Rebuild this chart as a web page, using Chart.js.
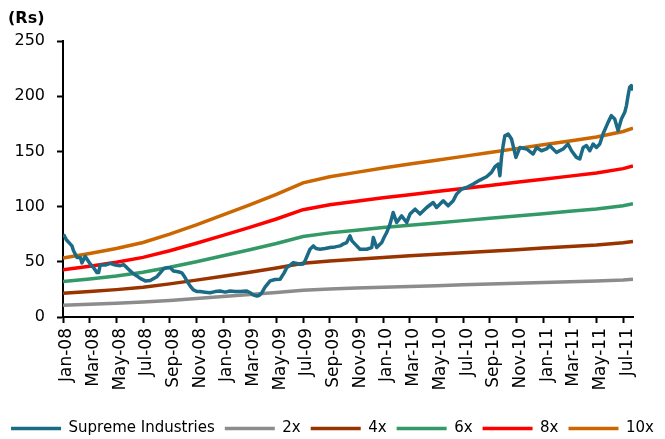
<!DOCTYPE html>
<html>
<head>
<meta charset="utf-8">
<script src="https://cdn.jsdelivr.net/npm/chart.js@4.4.1/dist/chart.umd.min.js"></script>
<style>
  html, body { margin: 0; padding: 0; background: #ffffff; }
  #wrap { width: 665px; height: 439px; }
</style>
</head>
<body>
<div id="wrap"><canvas id="c" width="665" height="439"></canvas></div>
<script>
// x values are months since 1-Jan-2008
const xTickLabels = ['Jan-08','Mar-08','May-08','Jul-08','Sep-08','Nov-08','Jan-09','Mar-09','May-09','Jul-09','Sep-09','Nov-09','Jan-10','Mar-10','May-10','Jul-10','Sep-10','Nov-10','Jan-11','Mar-11','May-11','Jul-11'];
const yTicks = [0, 50, 100, 150, 200, 250];

const priceMonths = [0.04,0.25,0.55,0.67,0.79,0.92,1.05,1.30,1.42,1.67,1.82,2.04,2.27,2.55,2.67,2.79,3.17,3.54,3.92,4.29,4.54,4.79,5.17,5.54,5.79,6.17,6.54,7.04,7.29,7.54,7.79,8.04,8.28,8.64,8.91,9.09,9.29,9.54,9.78,10.06,10.28,10.66,11.03,11.41,11.78,12.16,12.53,12.91,13.28,13.78,14.03,14.25,14.53,14.70,14.91,15.15,15.53,15.90,16.28,16.58,16.78,17.03,17.27,17.53,17.78,18.02,18.15,18.40,18.52,18.77,18.97,19.27,19.65,20.02,20.40,20.77,21.00,21.27,21.52,21.67,21.90,22.27,22.77,23.15,23.27,23.52,23.90,24.07,24.27,24.52,24.76,25.02,25.39,25.77,26.02,26.40,26.77,27.27,27.76,28.01,28.51,28.88,29.26,29.51,29.89,30.26,30.76,31.26,31.76,32.13,32.38,32.63,32.76,32.88,33.00,33.13,33.38,33.63,33.75,33.96,34.26,34.76,35.25,35.51,35.88,36.25,36.50,37.00,37.50,37.87,38.13,38.50,38.75,39.00,39.25,39.50,39.75,40.00,40.25,40.49,40.87,41.12,41.37,41.62,41.87,42.12,42.25,42.37,42.49,42.62,42.74];
const priceValues = [75,70,66,64.4,60,57,54,53.8,49,55,52,48,45,40.2,40.2,47,47,48.5,47,46.5,47.5,44.7,40.2,37.2,35,32.7,33,36.5,40,43.5,44.7,44.7,41.7,41,40,37,32.7,28,24.5,23,23,22.5,22,23,23.5,22.5,23.5,23,23,23.6,22,20,19,19.5,22,27,32.7,34,34.2,40,44.7,47,49.3,48.5,47.8,48,50.8,58,61.4,64.4,62,61.4,62,62.9,63.5,64.4,66,67.4,73.5,69,66,61.4,61.4,62.9,72,62.9,67.4,72,76.5,84.1,94.6,85.6,91.6,85.6,93.2,97.7,93.2,99.2,103.7,99.2,105.3,100.7,105.3,111.3,115.9,117.3,120.4,124,127,131,136,138.6,128,144.6,155,164.2,165.8,161.2,155.2,144.6,153.6,152.2,147.6,153.6,150.6,152.2,155.2,149.1,152.2,156.7,150.6,144.6,143.1,153.6,155.2,150.6,156.7,153.6,156.7,165.8,176.3,182.4,179.4,168.8,179.4,185.4,191.5,200.5,208.1,209.6,205.1];

const bandMonths = [0,2,4,6,8,10,12,14,16,18,20,22,24,26,28,30,32,34,36,38,40,42,42.74];
const band2x  = [10.7,11.5,12.4,13.5,15,16.7,18.5,20.3,22.2,24.3,25.4,26.2,27,27.7,28.4,29.1,29.8,30.5,31.2,31.9,32.6,33.6,34.2];
const band4x  = [21.4,23,24.8,27,30,33.4,37,40.6,44.4,48.6,50.8,52.4,54,55.4,56.8,58.2,59.6,61,62.4,63.8,65.2,67.2,68.4];
const band6x  = [32.1,34.5,37.2,40.5,45,50.1,55.5,60.9,66.6,72.9,76.2,78.6,81,83.1,85.2,87.3,89.4,91.5,93.6,95.7,97.8,100.8,102.6];
const band8x  = [42.8,46,49.6,54,60,66.8,74,81.2,88.8,97.2,101.6,104.8,108,110.8,113.6,116.4,119.2,122,124.8,127.6,130.4,134.4,136.8];
const band10x = [53.5,57.5,62,67.5,75,83.5,92.5,101.5,111,121.5,127,131,135,138.5,142,145.5,149,152.5,156,159.5,163,168,171];

const seriesNames = ['Supreme Industries','2x','4x','6x','8x','10x'];
const seriesColors = ['#1B6B87','#8C8C8C','#993300','#339966','#FF0000','#CC6600'];

function pts(xs, ys) { return xs.map((x, i) => ({x: x, y: ys[i]})); }
const bands = [band2x, band4x, band6x, band8x, band10x];

const datasets = [{
  label: seriesNames[0],
  data: pts(priceMonths, priceValues),
  borderColor: seriesColors[0],
  backgroundColor: seriesColors[0],
  borderWidth: 3.5,
  pointRadius: 0,
  tension: 0,
  borderJoinStyle: 'round'
}];
bands.forEach((b, i) => {
  datasets.push({
    label: seriesNames[i + 1],
    data: pts(bandMonths, b),
    borderColor: seriesColors[i + 1],
    backgroundColor: seriesColors[i + 1],
    borderWidth: 3.5,
    pointRadius: 0,
    tension: 0
  });
});

const FONT = 'DejaVu Sans';

const titlePlugin = {
  id: 'rsTitle',
  afterDraw(chart) {
    const ctx = chart.ctx;
    ctx.save();
    ctx.font = 'bold 16px "' + FONT + '"';
    ctx.fillStyle = '#000';
    ctx.textBaseline = 'alphabetic';
    ctx.textAlign = 'left';
    ctx.fillText('(Rs)', 8, 23);
    ctx.restore();
  }
};

new Chart(document.getElementById('c'), {
  type: 'line',
  data: { datasets: datasets },
  plugins: [titlePlugin],
  options: {
    responsive: false,
    animation: false,
    events: [],
    layout: { padding: { top: 41, right: 0, left: 0, bottom: -7 } },
    scales: {
      x: {
        type: 'linear',
        min: 0,
        max: 42.74,
        afterBuildTicks(scale) {
          scale.ticks = xTickLabels.map((_, i) => ({ value: i * 2 }));
        },
        afterFit(scale) { scale.height = 94; },
        grid: { drawOnChartArea: false, drawTicks: true, tickLength: 6, color: '#000', tickWidth: 2 },
        border: { display: true, color: '#000', width: 2 },
        ticks: {
          autoSkip: false,
          minRotation: 90,
          maxRotation: 90,
          padding: 5,
          labelOffset: 4,
          color: '#000',
          font: { family: FONT, size: 17 },
          callback(v) { return xTickLabels[Math.round(v / 2)]; }
        }
      },
      y: {
        min: 0,
        max: 250,
        afterBuildTicks(scale) {
          scale.ticks = yTicks.map(v => ({ value: v }));
        },
        afterFit(scale) { scale.width = 63; },
        grid: { drawOnChartArea: false, drawTicks: true, tickLength: 6, color: '#000', tickWidth: 2 },
        border: { display: true, color: '#000', width: 2 },
        ticks: {
          padding: 12,
          color: '#000',
          font: { family: FONT, size: 16 }
        }
      },
      yPad: {
        position: 'right',
        min: 0,
        max: 250,
        afterFit(scale) { scale.width = 32; },
        grid: { display: false },
        border: { display: false },
        ticks: { display: false }
      }
    },
    plugins: {
      legend: {
        position: 'bottom',
        labels: {
          usePointStyle: true,
          pointStyle: 'line',
          pointStyleWidth: 50,
          padding: 10,
          color: '#000',
          font: { family: FONT, size: 15 }
        }
      },
      tooltip: { enabled: false }
    }
  }
});
</script>
</body>
</html>
